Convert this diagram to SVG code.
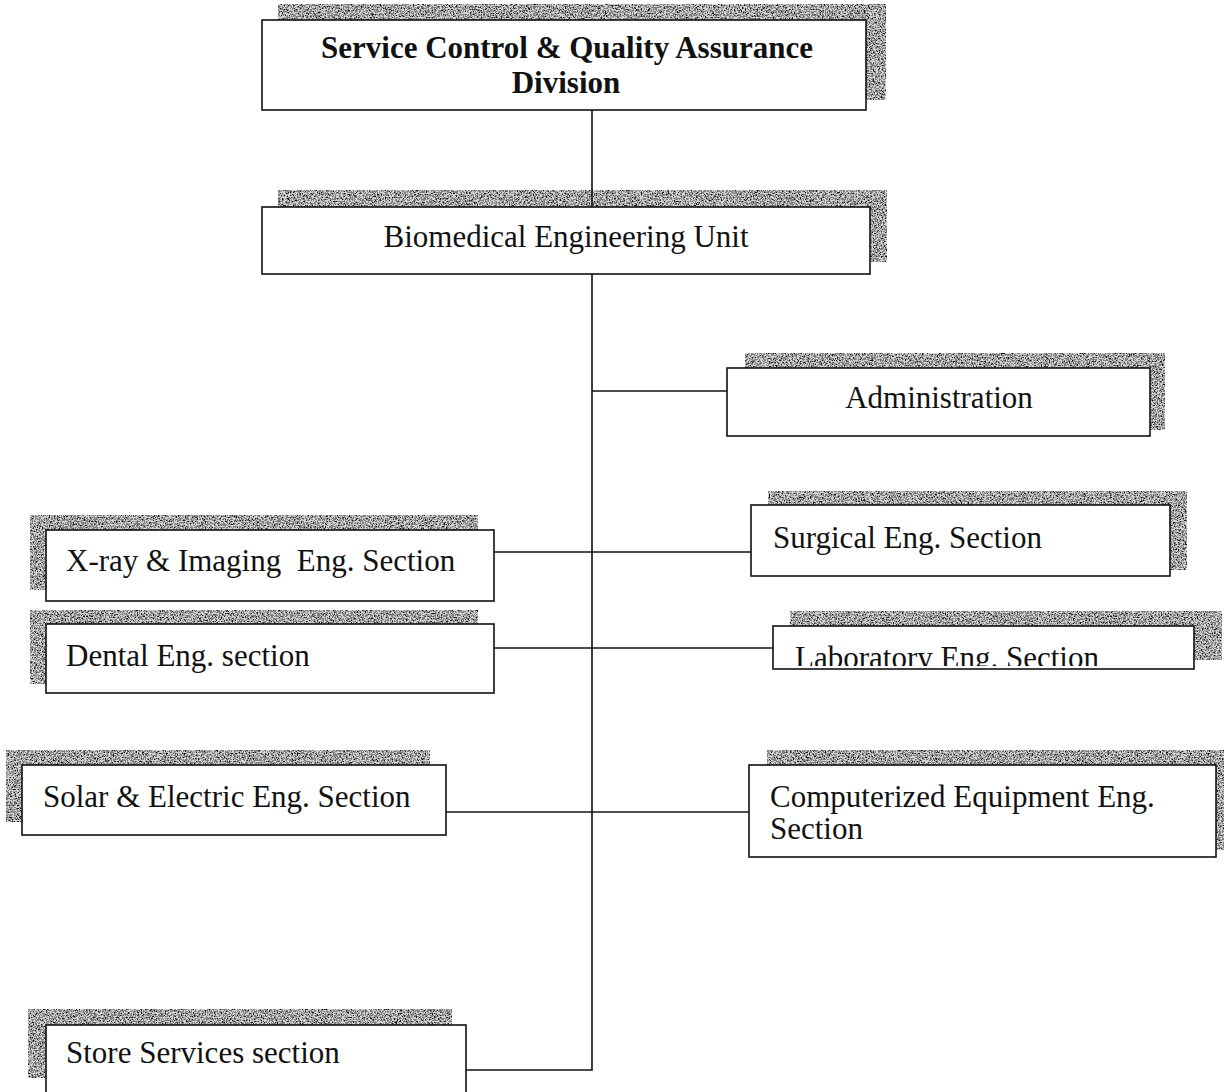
<svg xmlns="http://www.w3.org/2000/svg" width="1224" height="1092" viewBox="0 0 1224 1092">
<defs>
<filter id="grain" filterUnits="userSpaceOnUse" x="0" y="0" width="1224" height="1092">
<feTurbulence type="fractalNoise" baseFrequency="0.75" numOctaves="2" seed="7" result="n"/>
<feColorMatrix in="n" type="matrix" values="0 0 0 0 0  0 0 0 0 0  0 0 0 0 0  1 0 0 0 0" result="a"/>
<feComponentTransfer in="a" result="t"><feFuncA type="discrete" tableValues="0 0 0 0.4 0.9 1"/></feComponentTransfer>
<feComposite in="t" in2="SourceAlpha" operator="in"/>
</filter>
<clipPath id="labclip"><rect x="773" y="626" width="421" height="40"/></clipPath>
</defs>
<style>
.box{fill:#fff;stroke:#111;stroke-width:1.6}
.shb{fill:#d2d2d2}
.shg{fill:#222;filter:url(#grain)}
.t{font-family:"Liberation Serif","Times New Roman",serif;font-size:31px;fill:#111}
.b{font-weight:bold}
.c{stroke:#111;stroke-width:1.6;fill:none}
</style>
<rect width="1224" height="1092" fill="#fff"/>
<g id="shadows">
<path id="s1" class="shb" d="M278,4 H886 V100 H866 V20 H278 Z"/>
<path id="s2" class="shb" d="M278,190 H887 V262 H870 V207 H278 Z"/>
<path id="s3" class="shb" d="M745,353 H1165 V430 H1150 V368 H745 Z"/>
<path id="s4" class="shb" d="M768,491 H1187 V570 H1170 V505 H768 Z"/>
<path id="s5" class="shb" d="M30,515 H478 V530 H46 V590 H30 Z"/>
<path id="s6" class="shb" d="M30,610 H478 V624 H46 V684 H30 Z"/>
<path id="s7" class="shb" d="M790,611 H1222 V660 H1194 V626 H790 Z"/>
<path id="s8" class="shb" d="M6,750 H430 V765 H22 V822 H6 Z"/>
<path id="s9" class="shb" d="M767,750 H1224 V850 H1216 V765 H767 Z"/>
<path id="s10" class="shb" d="M28,1009 H452 V1025 H46 V1078 H28 Z"/>
</g>
<g class="shg">
<path d="M278,4 H886 V100 H866 V20 H278 Z"/>
<path d="M278,190 H887 V262 H870 V207 H278 Z"/>
<path d="M745,353 H1165 V430 H1150 V368 H745 Z"/>
<path d="M768,491 H1187 V570 H1170 V505 H768 Z"/>
<path d="M30,515 H478 V530 H46 V590 H30 Z"/>
<path d="M30,610 H478 V624 H46 V684 H30 Z"/>
<path d="M790,611 H1222 V660 H1194 V626 H790 Z"/>
<path d="M6,750 H430 V765 H22 V822 H6 Z"/>
<path d="M767,750 H1224 V850 H1216 V765 H767 Z"/>
<path d="M28,1009 H452 V1025 H46 V1078 H28 Z"/>
</g>
<g id="connectors">
<line class="c" x1="592" y1="110" x2="592" y2="207"/>
<polyline class="c" points="592,274 592,1070 466,1070"/>
<line class="c" x1="592" y1="391" x2="727" y2="391"/>
<line class="c" x1="494" y1="552" x2="751" y2="552"/>
<line class="c" x1="494" y1="648" x2="773" y2="648"/>
<line class="c" x1="446" y1="812" x2="749" y2="812"/>
</g>
<g id="n-division">
<rect class="box" x="262" y="20" width="604" height="90"/>
<text class="t b" x="567" y="58" text-anchor="middle">Service Control &amp; Quality Assurance</text>
<text class="t b" x="566" y="93" text-anchor="middle">Division</text>
</g>
<g id="n-bme">
<rect class="box" x="262" y="207" width="608" height="67"/>
<text class="t" x="566" y="247" text-anchor="middle">Biomedical Engineering Unit</text>
</g>
<g id="n-admin">
<rect class="box" x="727" y="368" width="423" height="68"/>
<text class="t" x="939" y="408" text-anchor="middle">Administration</text>
</g>
<g id="n-surgical">
<rect class="box" x="751" y="505" width="419" height="71"/>
<text class="t" x="773" y="548">Surgical Eng. Section</text>
</g>
<g id="n-xray">
<rect class="box" x="46" y="530" width="448" height="71"/>
<text class="t" x="66" y="571" xml:space="preserve">X-ray &amp; Imaging  Eng. Section</text>
</g>
<g id="n-dental">
<rect class="box" x="46" y="624" width="448" height="69"/>
<text class="t" x="66" y="666">Dental Eng. section</text>
</g>
<g id="n-lab">
<rect class="box" x="773" y="626" width="421" height="43"/>
<text class="t" x="795" y="668" clip-path="url(#labclip)">Laboratory Eng. Section</text>
</g>
<g id="n-solar">
<rect class="box" x="22" y="765" width="424" height="70"/>
<text class="t" x="43" y="807">Solar &amp; Electric Eng. Section</text>
</g>
<g id="n-computer">
<rect class="box" x="749" y="765" width="467" height="92"/>
<text class="t" x="770" y="807">Computerized Equipment Eng.</text>
<text class="t" x="770" y="839">Section</text>
</g>
<g id="n-store">
<rect class="box" x="46" y="1025" width="420" height="90"/>
<text class="t" x="66" y="1063">Store Services section</text>
</g>
</svg>
